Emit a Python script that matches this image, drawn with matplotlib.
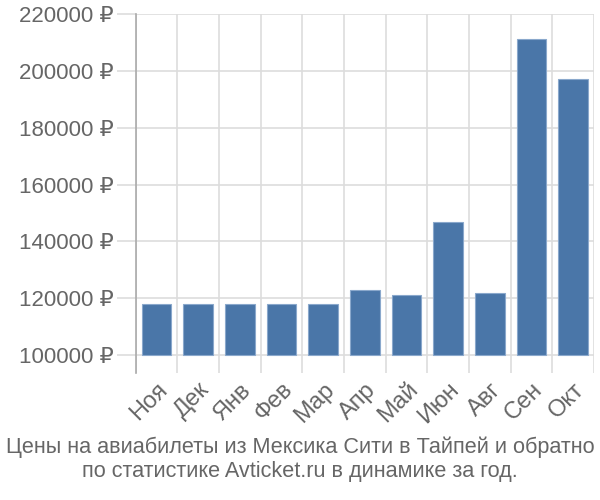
import matplotlib
matplotlib.use("Agg")
import matplotlib.pyplot as plt
import numpy as np

months = ["Ноя", "Дек", "Янв", "Фев", "Мар", "Апр", "Май", "Июн", "Авг", "Сен", "Окт"]
prices = [117800, 117800, 117800, 117800, 117800, 122800, 121000, 146900, 121900, 211300, 197200]
yticks = [100000, 120000, 140000, 160000, 180000, 200000, 220000]
title = "Цены на авиабилеты из Мексика Сити в Тайпей и обратно\nпо статистике Avticket.ru в динамике за год."

plt.rcParams['font.family'] = ['Liberation Sans', 'DejaVu Sans']

fig = plt.figure(figsize=(6, 5), dpi=100)
ax = fig.add_axes([0.226, 0.254, 0.764, 0.718])

x = np.arange(len(months))
base = 100000
ax.bar(x, [p - base for p in prices], bottom=base, width=0.71,
       color="#4a76a8", edgecolor="#8aa8cc", linewidth=0.8, zorder=3)

ax.set_xlim(-0.5, len(months) - 0.5)
ax.set_ylim(93700, 220000)
ax.set_yticks(yticks)
ax.set_yticklabels([f"{v} ₽" for v in yticks])
ax.set_xticks(x)
ax.set_xticklabels(months, rotation=45, ha="right", va="top", rotation_mode="anchor")

ax.set_xticks(np.arange(-0.5, len(months), 1.0), minor=True)
ax.grid(True, axis="y", which="major", color="#dddddd", linewidth=1.2, zorder=0)
ax.grid(True, axis="x", which="minor", color="#dddddd", linewidth=1.2, zorder=0)
ax.tick_params(axis="x", which="major", length=0, labelsize=17, colors="#666666", pad=4)
ax.tick_params(axis="x", which="minor", length=0)
ax.tick_params(axis="y", length=14, color="#dddddd", width=1.2, labelsize=16, labelcolor="#666666", pad=2)

for s in ["top", "right", "bottom"]:
    ax.spines[s].set_visible(False)
ax.spines["left"].set_color("#aaaaaa")
ax.spines["left"].set_linewidth(1.2)

fig.text(0.5, 0.081, title, ha="center", va="center", fontsize=15.6, color="#666666", linespacing=1.18)

fig.savefig("out.png", dpi=100)
